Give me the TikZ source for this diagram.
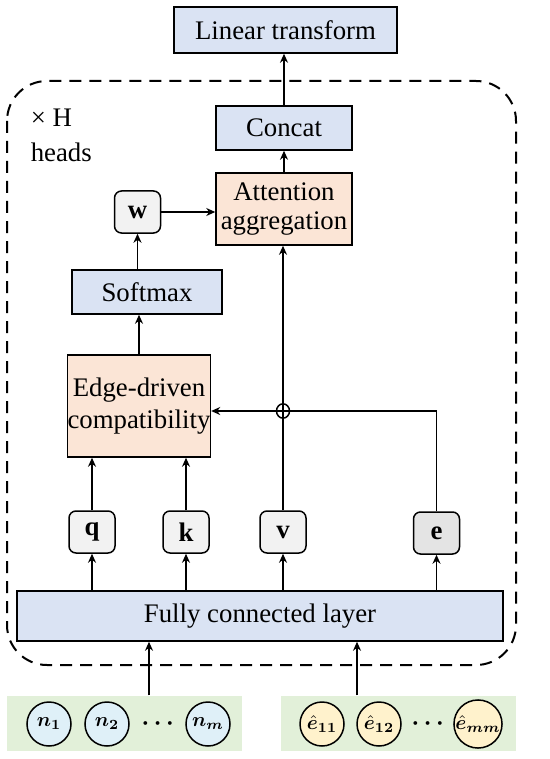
\documentclass[tikz,border=0pt]{standalone}
\usepackage{fontspec}
\setmainfont{Liberation Serif}
\usepackage{amsmath,bm}
\usetikzlibrary{arrows.meta}
\definecolor{blu}{HTML}{DAE3F3}
\definecolor{pch}{HTML}{FBE5D6}
\definecolor{gry}{HTML}{F2F2F2}
\definecolor{dgry}{HTML}{E4E4E4}
\definecolor{grn}{HTML}{E2F0D9}
\definecolor{cyn}{HTML}{DFF0F8}
\definecolor{ylw}{HTML}{FFF2CC}
\begin{document}
\begin{tikzpicture}[>={Stealth[length=4.5pt,width=4pt]},x=0.5pt,y=-0.5pt,line width=0.75pt,
	font=\fontsize{13.4}{15}\selectfont,
	blk/.style={draw,fill=#1,inner sep=0pt,align=center},
	vec/.style={draw,rounded corners=3.5pt,fill=#1,minimum width=23pt,minimum height=21pt,inner sep=0pt,font=\fontsize{13.4}{15}\selectfont\bfseries},
	tok/.style={draw,circle,fill=#1,minimum size=22pt,inner sep=0pt,font=\fontsize{9.6}{11}\selectfont}]
		\useasboundingbox (0,0) rectangle (550,759);
		\draw[dash pattern=on 6pt off 4pt,line width=1pt,rounded corners=20pt] (7,81) rectangle (516,665);
		\node[anchor=north west,align=left,inner sep=0pt,font=\fontsize{13.4}{17.5}\selectfont] (hd) at (30,108) {× H\\heads};
		\node[blk=blu,minimum width=111.5pt,minimum height=23pt] (lin) at (285.5,30) {Linear transform};
		\node[blk=blu,minimum width=68pt,minimum height=22pt] (cat) at (284,128) {Concat};
		\node[blk=pch,minimum width=68pt,minimum height=36pt,font=\fontsize{13.4}{14.5}\selectfont] (agg) at (284,209) {Attention\\aggregation};
		\node[vec=gry] (w) at (137.5,212) {w};
		\node[blk=blu,minimum width=75pt,minimum height=22pt] (smx) at (147,292) {Softmax};
		\node[blk=pch,minimum width=71pt,minimum height=51pt,font=\fontsize{13.4}{16}\selectfont] (cmp) at (139,406) {Edge-driven\\compatibility};
		\node[vec=gry] (q) at (92,532) {q};
		\node[vec=gry] (k) at (186,532) {k};
		\node[vec=gry] (v) at (283,532) {v};
		\node[vec=dgry] (e) at (436.5,533) {e};
		\node[blk=blu,minimum width=243pt,minimum height=25pt] (fc) at (260,616) {Fully connected layer};
		\node[fill=grn,minimum width=117.5pt,minimum height=27.5pt,inner sep=0pt] (np) at (124.5,723.5) {};
		\node[fill=grn,minimum width=117.5pt,minimum height=27.5pt,inner sep=0pt] (ep) at (398.5,723.5) {};
		\node[tok=cyn] (n1) at (49,724) {$\boldsymbol{n_1}$};
		\node[tok=cyn] (n2) at (107,724) {$\boldsymbol{n_2}$};
		\node[font=\fontsize{12}{13}\selectfont] (nd) at (160,724) {$\boldsymbol{\cdots}$};
		\node[tok=cyn] (nm) at (208,724) {$\boldsymbol{n_m}$};
		\node[tok=ylw] (e11) at (322,724) {$\boldsymbol{\hat{e}_{11}}$};
		\node[tok=ylw] (e12) at (379,724) {$\boldsymbol{\hat{e}_{12}}$};
		\node[font=\fontsize{12}{13}\selectfont] (ed) at (430,724) {$\boldsymbol{\cdots}$};
		\node[tok=ylw] (emm) at (478,724) {$\boldsymbol{\hat{e}_{mm}}$};
		\coordinate (cin) at ([yshift=-2.5pt]cmp.east);
		\coordinate (xing) at (v.north |- cin);
		\draw[->] (cat.north) -- (cat.north |- lin.south);
		\draw[->] (agg) -- (cat);
		\draw[->] (w.east) -- (w.east -| agg.west);
		\draw[->] (w.south |- smx.north) -- (w.south);
		\draw[->] (cmp.north) -- (cmp.north |- smx.south);
		\draw[->] (q) -- (q |- cmp.south);
		\draw[->] (k) -- (k |- cmp.south);
		\draw[->] (v.north) -- (v.north |- agg.south);
		\draw[->] (e.north) |- (cin);
		\draw (xing) ellipse (3.25pt and 3.6pt);
		\draw[->] (fc.north -| q) -- (q);
		\draw[->] (fc.north -| k) -- (k);
		\draw[->] (fc.north -| v) -- (v);
		\draw[->] (fc.north -| e) -- (e);
		\draw[->] ([xshift=12.25pt]np.north) -- ([xshift=12.25pt]np.north |- fc.south);
		\draw[->] ([xshift=-20.75pt]ep.north) -- ([xshift=-20.75pt]ep.north |- fc.south);
		\end{tikzpicture}
\end{document}
